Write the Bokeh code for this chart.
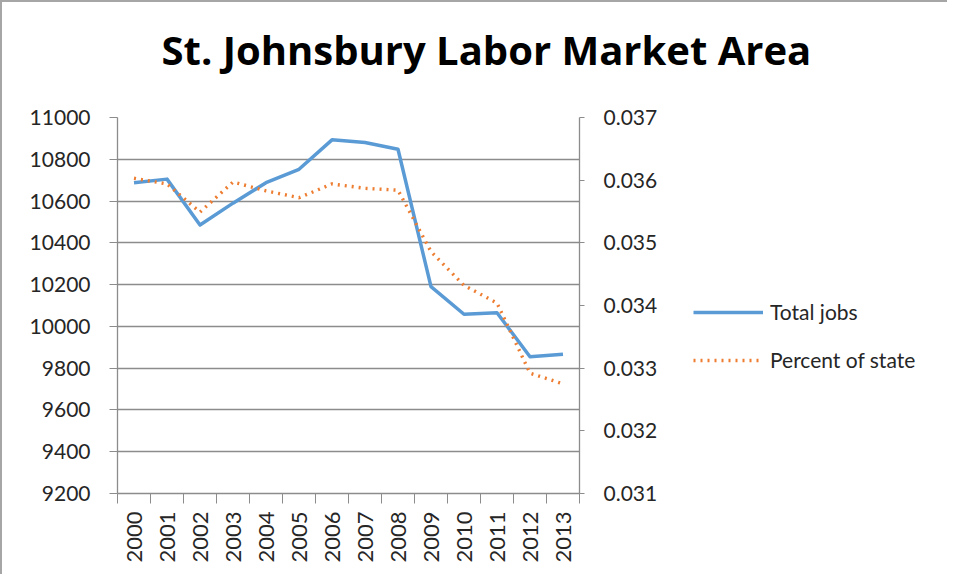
from bokeh.plotting import figure
from bokeh.layouts import column, row
from bokeh.models import (Range1d, LinearAxis, FixedTicker, NumeralTickFormatter,
                          Legend, LegendItem, Title)
from bokeh.embed import file_html
from bokeh.resources import INLINE

years = [2000, 2001, 2002, 2003, 2004, 2005, 2006, 2007, 2008, 2009, 2010, 2011, 2012, 2013]
total_jobs = [10688, 10705, 10485, 10590, 10688, 10752, 10893, 10880, 10848, 10190, 10058, 10065, 9855, 9867]
percent_of_state = [0.03603, 0.03594, 0.03549, 0.03597, 0.03583, 0.03572, 0.03594, 0.03587, 0.03584,
                    0.03486, 0.03432, 0.03404, 0.03292, 0.03275]
left_ticks = [9200, 9400, 9600, 9800, 10000, 10200, 10400, 10600, 10800, 11000]
right_ticks = [0.031, 0.032, 0.033, 0.034, 0.035, 0.036, 0.037]
series_names = ["Total jobs", "Percent of state"]

FONT = "Lato"
GRAY = "#8c8c8c"
TXT = "#262626"
BLUE = "#5B9BD5"
ORANGE = "#ED7D31"

# ---- title strip ----
tf = figure(width=945, height=100, output_backend="svg", toolbar_location=None,
            x_axis_location=None, y_axis_location=None,
            x_range=Range1d(0, 1), y_range=Range1d(0, 1),
            min_border_left=0, min_border_right=0, min_border_top=74, min_border_bottom=0)
tf.outline_line_color = None
tf.grid.visible = False
tf.title = Title(text="St. Johnsbury Labor Market Area", align="left", offset=159,
                 text_font="Open Sans", text_font_size="40px", text_font_style="bold",
                 text_color="#000000", standoff=0)

# ---- main chart ----
p = figure(width=662, height=472, output_backend="svg", toolbar_location=None,
           x_range=Range1d(years[0] - 0.5, years[-1] + 0.5),
           y_range=Range1d(left_ticks[0], left_ticks[-1]),
           min_border_left=115, min_border_right=85, min_border_top=15, min_border_bottom=81,
           x_axis_location=None, y_axis_location=None)
p.outline_line_color = None
p.extra_y_ranges = {"pct": Range1d(right_ticks[0], right_ticks[-1])}

xticker = FixedTicker(ticks=years, minor_ticks=[y - 0.5 for y in years] + [years[-1] + 0.5])
xaxis = LinearAxis(ticker=xticker, major_label_orientation=3.14159265 / 2)
yaxis = LinearAxis(ticker=FixedTicker(ticks=left_ticks))
raxis = LinearAxis(y_range_name="pct", ticker=FixedTicker(ticks=right_ticks),
                   formatter=NumeralTickFormatter(format="0.000"))

for ax in (xaxis, yaxis, raxis):
    ax.axis_line_color = GRAY
    ax.axis_line_width = 1.3
    ax.major_tick_line_color = GRAY
    ax.minor_tick_line_color = GRAY
    ax.major_label_text_font = FONT
    ax.major_label_text_font_size = "21px"
    ax.major_label_text_color = TXT
    ax.major_tick_in = 0
    ax.minor_tick_in = 0
    ax.minor_tick_out = 0

xaxis.major_tick_out = 0
xaxis.minor_tick_out = 10
xaxis.major_label_standoff = 8
xaxis.major_label_text_font_size = "22px"
yaxis.major_tick_out = 8
yaxis.major_label_standoff = 19
raxis.major_tick_out = 5
raxis.major_label_standoff = 19

p.add_layout(xaxis, "below")
p.add_layout(yaxis, "left")
p.add_layout(raxis, "right")

p.xgrid.visible = False
p.ygrid.ticker = FixedTicker(ticks=left_ticks)
p.ygrid.grid_line_color = GRAY
p.ygrid.grid_line_width = 1.3

p.line(years, total_jobs, line_color=BLUE, line_width=3.5, line_join="round")
p.line(years, percent_of_state, y_range_name="pct", line_color=ORANGE,
       line_width=3.4, line_dash="2 5")

# ---- legend strip ----
lf = figure(width=283, height=472, output_backend="svg", toolbar_location=None,
            x_axis_location=None, y_axis_location=None,
            x_range=Range1d(0, 1), y_range=Range1d(0, 1),
            min_border_left=0, min_border_right=0, min_border_top=0, min_border_bottom=0)
lf.outline_line_color = None
lf.grid.visible = False
# legend keys: styled like the series, kept outside the visible range
k1 = lf.line([5, 6], [5, 6], line_color=BLUE, line_width=3.5)
k2 = lf.line([5, 6], [5, 6], line_color=ORANGE, line_width=3.4, line_dash="2 5")
legend = Legend(items=[LegendItem(label=series_names[0], renderers=[k1]),
                       LegendItem(label=series_names[1], renderers=[k2])],
                location=(29, 121), padding=0, margin=0, spacing=23,
                glyph_width=70, glyph_height=20, label_height=20, label_standoff=7,
                label_text_font=FONT, label_text_font_size="21px", label_text_color=TXT,
                border_line_color=None, background_fill_alpha=0)
lf.add_layout(legend, "center")

layout = column(tf, row(p, lf), styles={"border-left": "2px solid #a6a6a6",
                                        "border-top": "2px solid #a6a6a6"})

open("out.html", "w").write(file_html(layout, INLINE))
